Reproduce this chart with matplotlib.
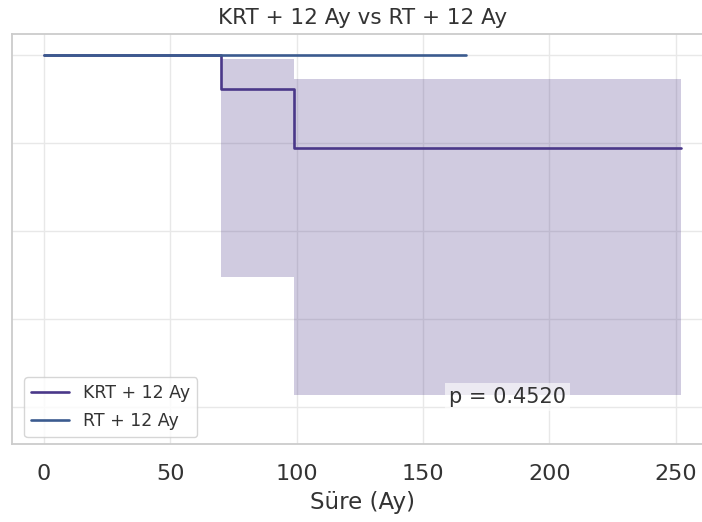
import matplotlib
matplotlib.use("Agg")
import matplotlib.pyplot as plt
import seaborn as sns

# Kaplan-Meier values
krt_time = [0, 70, 99, 252]
krt_surv = [1.0, 0.923, 0.788, 0.788]
krt_ci_low = [1.0, 0.496, 0.227, 0.227]
krt_ci_high = [1.0, 0.99, 0.945, 0.945]

rt_time = [0, 167]
rt_surv = [1.0, 1.0]

x_ticks = [0, 50, 100, 150, 200, 250]
y_ticks = [0.2, 0.4, 0.6, 0.8, 1.0]
p_value = 0.4520

sns.set_style("whitegrid")
plt.rcParams["font.family"] = ["DejaVu Sans"]

krt_color = "#4a3889"
rt_color = "#3b5b8f"

fig = plt.figure(figsize=(7.02, 5.22), dpi=100)
ax = fig.add_axes([12 / 702, 78 / 522, 700.8 / 702, 410 / 522])

ax.fill_between(
    krt_time, krt_ci_low, krt_ci_high,
    step="post", color=krt_color, alpha=0.26, linewidth=0,
)
ax.step(krt_time, krt_surv, where="post", color=krt_color,
        linewidth=1.9, label="KRT + 12 Ay")
ax.step(rt_time, rt_surv, where="post", color=rt_color,
        linewidth=1.9, label="RT + 12 Ay")

ax.set_xlim(-12.6, 264.6)
ax.set_ylim(0.115, 1.048)
ax.set_xticks(x_ticks)
ax.set_yticks(y_ticks)
ax.set_yticklabels([])
ax.tick_params(axis="x", labelsize=16, colors="#333333", pad=11)
ax.tick_params(axis="y", length=0)

ax.set_xlabel("Süre (Ay)", fontsize=16.5, color="#333333", labelpad=5)
ax.set_title("KRT + 12 Ay vs RT + 12 Ay", fontsize=15.5, color="#333333", pad=7)

for spine in ax.spines.values():
    spine.set_color("#cccccc")
    spine.set_linewidth(1.3)
ax.grid(True, color="#e8e8e8", linewidth=1.0)

ax.legend(loc="lower left", fontsize=12.5, frameon=True,
          bbox_to_anchor=(0.005, -0.005), labelcolor="#333333",
          handlelength=2.2, labelspacing=0.6)

ax.text(0.707, 0.115, f"p = {p_value:.4f}", transform=ax.transAxes,
        ha="center", va="center", fontsize=15, color="#333333",
        bbox=dict(facecolor="white", alpha=0.6, edgecolor="none", pad=3))

fig.savefig("out.png", dpi=100)
